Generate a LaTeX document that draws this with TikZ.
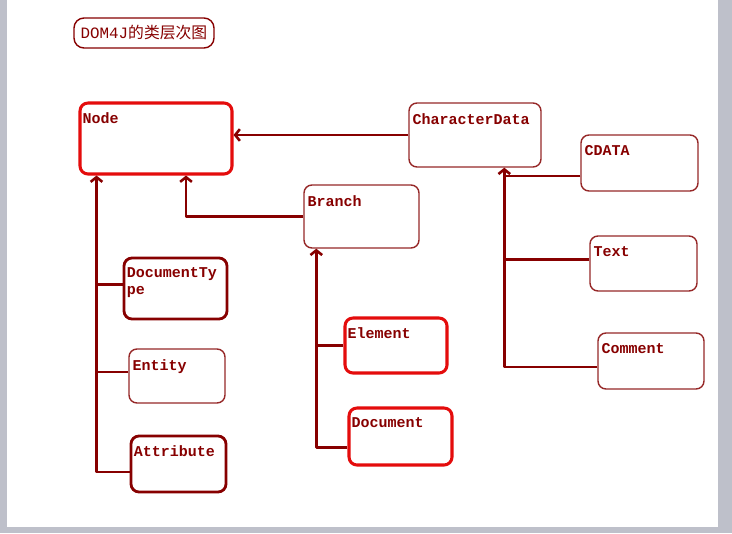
\documentclass[tikz,border=0pt]{standalone}
\usepackage{fontspec}
\setmonofont{Liberation Mono}
\newfontfamily\cjkfont{Noto Sans CJK SC}
\usetikzlibrary{arrows.meta,positioning}
\definecolor{clsred}{RGB}{228,12,12}
\definecolor{clsdark}{RGB}{135,0,0}
\definecolor{clsthin}{RGB}{150,40,40}
\definecolor{framegray}{RGB}{190,192,202}
\newdimen\pxu \pxu=0.03cm

\begin{document}
\begin{tikzpicture}[x=0.03cm,y=-0.03cm,line join=round,
    lbl/.style={font=\ttfamily\bfseries\fontsize{12.8}{14}\selectfont,text=clsdark,
      anchor=north west,inner sep=0pt,align=left,xshift=4\pxu,yshift=-11\pxu},
    cls/.style={draw=clsthin,line width=1.2pt,rounded corners=8\pxu,
      label={[lbl]north west:#1}},
    sz/.style 2 args={minimum width=#1\pxu,minimum height=#2\pxu},
    hot/.style={draw=clsred,line width=2.6pt},
    heavy/.style={draw=clsdark,line width=2.4pt},
    line/.style={draw=clsdark,line width=2.2pt},
    link/.style={line,-{Straight Barb[length=4pt,width=10pt]}}]
  % page frame
  \fill[framegray] (0,0) rectangle (732,533);
  \fill[white] (7,0) rectangle (718,527);
  \useasboundingbox (0,0) rectangle (732,533);

  \node[draw=clsdark,line width=1.2pt,rounded corners=10\pxu,sz={140}{30},text=clsdark,
    font=\fontsize{13.5}{15}\selectfont] (title) at (144,33) {\ttfamily DOM4J\cjkfont 的类层次图};

  \node[cls=Node,hot,sz={152}{71}] (nodebox) at (156,138.5) {};
  \node[cls=CharacterData,sz={132}{64}] (chardata) at (475,135) {};
  \node[cls=Branch,sz={115}{63}] (branch) at (361.5,216.5) {};
  \node[cls=CDATA,sz={117}{56}] (cdata) at (639.5,163) {};
  \node[cls=Text,sz={107}{55}] (textbox) at (643.5,263.5) {};
  \node[cls=Comment,sz={106}{56}] (comment) at (651,361) {};
  \node[cls={DocumentTy\\pe},heavy,sz={103}{61}] (doctype) at (175.5,288.5) {};
  \node[cls=Entity,sz={96}{54}] (entity) at (177,376) {};
  \node[cls=Attribute,heavy,sz={95}{56}] (attr) at (178.5,464) {};
  \node[cls=Element,hot,sz={102}{55}] (element) at (396,345.5) {};
  \node[cls=Document,hot,sz={103}{57}] (docnode) at (400.5,436.5) {};

  \coordinate (ntop) at ([xshift=18\pxu]nodebox.south west);
  \coordinate (btop) at ([xshift=13\pxu]branch.south west);
  \coordinate (ctop) at ([xshift=96\pxu]chardata.south west);

  \draw[link] (chardata.west) -- (chardata.west -| nodebox.east);
  \draw[link] (branch.west) -| ([xshift=30\pxu]nodebox.south);

  \draw[link] ([yshift=-8\pxu]attr.west) -| (ntop);
  \draw[line] ([yshift=4\pxu]doctype.west) -- ([yshift=4\pxu]doctype.west -| ntop);
  \draw[line] ([yshift=4\pxu]entity.west) -- ([yshift=4\pxu]entity.west -| ntop);

  \draw[link] ([yshift=-11\pxu]docnode.west) -| (btop);
  \draw[line] (element.west) -- (element.west -| btop);

  \draw[link] ([yshift=-6\pxu]comment.west) -| (ctop);
  \draw[line] ([yshift=-13\pxu]cdata.west) -- ([yshift=-13\pxu]cdata.west -| ctop);
  \draw[line] ([yshift=4\pxu]textbox.west) -- ([yshift=4\pxu]textbox.west -| ctop);
\end{tikzpicture}
\end{document}
